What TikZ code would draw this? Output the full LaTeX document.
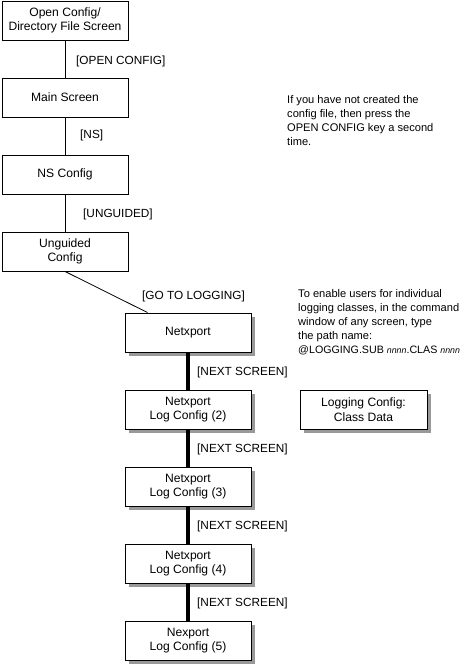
\documentclass[tikz,border=0pt]{standalone}
\usepackage{fontspec}
\setmainfont{Liberation Sans}
\usetikzlibrary{shadows,calc}
\begin{document}
\begin{tikzpicture}[x=1pt,y=-1pt,
  every node/.style={font=\fontsize{11.8}{14.5}\selectfont},
  plainbox/.style={draw,line width=0.9pt,minimum width=126pt,minimum height=39pt,inner sep=0pt,align=center,fill=white,font=\fontsize{12.1}{14.5}\selectfont},
  shbox/.style={plainbox,drop shadow={shadow xshift=4pt,shadow yshift=-4pt,fill=black!40,opacity=1}},
  lbl/.style={anchor=west,inner sep=0pt},
  note/.style={anchor=north west,inner sep=0pt,align=left,font=\fontsize{11.1}{14}\selectfont},
  thinline/.style={line width=0.9pt},
  heavyline/.style={line width=3.3pt}]
\useasboundingbox (0,0) rectangle (463,666);
\node[plainbox] (b1) at (65,20.5) {Open Config/\\Directory File Screen};
\node[plainbox] (b2) at (65,97.5) {Main Screen};
\node[plainbox] (b3) at (65,174.5) {NS Config};
\node[plainbox] (b4) at (65,251.5) {Unguided\\Config};
\node[shbox] (n1) at (188,332.5) {Netxport};
\node[shbox] (n2) at (188,409.5) {Netxport\\Log Config (2)};
\node[shbox] (n3) at (188,486.5) {Netxport\\Log Config (3)};
\node[shbox] (n4) at (188,563.5) {Netxport\\Log Config (4)};
\node[shbox] (n5) at (188,640.5) {Nexport\\Log Config (5)};
\node[shbox,minimum width=127pt] (lc) at (363.5,409.5) {Logging Config:\\Class Data};
\draw[thinline] (b1) -- (b2);
\draw[thinline] (b2) -- (b3);
\draw[thinline] (b3) -- (b4);
\draw[line width=0.8pt] (b4.south) -- ($(n1.north west)+(23,0)$);
\draw[heavyline] (n1) -- (n2);
\draw[heavyline] (n2) -- (n3);
\draw[heavyline] (n3) -- (n4);
\draw[heavyline] (n4) -- (n5);
\node[lbl] (l1) at (76,61) {[OPEN CONFIG]};
\node[lbl] (l2) at (80,135) {[NS]};
\node[lbl] (l3) at (83,214) {[UNGUIDED]};
\node[lbl] (l4) at (142,296) {[GO TO LOGGING]};
\node[lbl] (l5) at (197,372) {[NEXT SCREEN]};
\node[lbl] (l6) at (197,449) {[NEXT SCREEN]};
\node[lbl] (l7) at (197,526) {[NEXT SCREEN]};
\node[lbl] (l8) at (197,603) {[NEXT SCREEN]};
\node[note] (t1) at (287,95.5) {If you have not created the\\config file, then press the\\OPEN CONFIG key a second\\time.};
\node[note] (t2) at (298,289.5) {To enable users for individual\\logging classes, in the command\\window of any screen, type\\the path name:\\{\fontsize{10.7}{14}\selectfont @LOGGING.SUB {\itshape\fontsize{8.8}{12}\selectfont nnnn}.CLAS {\itshape\fontsize{8.8}{12}\selectfont nnnn}}};
\end{tikzpicture}
\end{document}
